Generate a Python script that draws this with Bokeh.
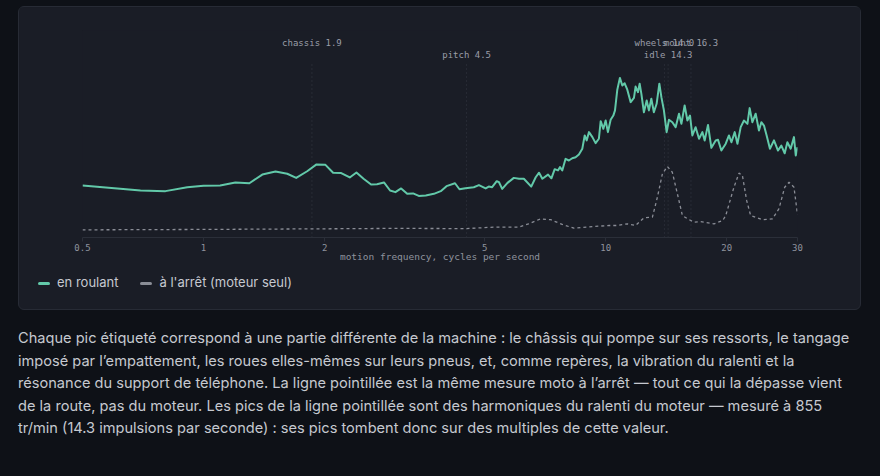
from bokeh.plotting import figure
from bokeh.models import (Range1d, FixedTicker, Div, GlobalInlineStyleSheet)
from bokeh.layouts import column
from bokeh.core.properties import value
from bokeh.embed import file_html
from bokeh.resources import INLINE

# ---- data ----
riding_freq = [0.5, 0.697, 0.804, 0.911, 1.0, 1.10, 1.20, 1.30, 1.40, 1.51, 1.615, 1.70, 1.81, 1.91,
               2.01, 2.10, 2.20, 2.31, 2.40, 2.50, 2.61, 2.70, 2.81, 2.91, 3.00, 3.10, 3.21, 3.32,
               3.43, 3.57, 3.74, 3.89, 4.02, 4.22, 4.33, 4.48, 4.70, 4.84, 5.03, 5.12, 5.22, 5.36,
               5.43, 5.53, 5.70, 5.91, 6.09, 6.26, 6.53, 6.70, 6.83, 6.96, 7.19, 7.33, 7.47, 7.61,
               7.70, 7.80, 7.95, 8.10, 8.26, 8.42, 8.58, 8.75, 8.87, 8.97, 9.09, 9.27, 9.44, 9.62,
               9.72, 9.87, 10.0, 10.13, 10.29, 10.45, 10.55, 10.69, 10.85, 11.00, 11.15, 11.32,
               11.54, 11.76, 11.87, 12.03, 12.15, 12.27, 12.45, 12.65, 12.81, 12.99, 13.18, 13.39,
               13.60, 13.76, 13.96, 14.18, 14.37, 14.65, 14.93, 15.22, 15.43, 15.72, 15.97, 16.21,
               16.43, 16.74, 17.07, 17.40, 17.63, 17.97, 18.32, 18.78, 19.03, 19.40, 19.89, 20.26,
               20.55, 20.94, 21.27, 21.67, 22.08, 22.52, 22.81, 23.17, 23.61, 24.06, 24.39, 24.76,
               25.14, 25.62, 26.22, 26.83, 27.35, 27.88, 28.31, 28.85, 29.40, 29.70, 30.0]
riding_amp = [25.1, 22.7, 22.4, 24.3, 25.0, 25.1, 26.6, 26.2, 30.4, 31.9, 30.8, 28.8, 32.0, 35.3,
              35.1, 31.3, 31.1, 29.0, 31.4, 28.4, 25.6, 25.7, 26.6, 22.7, 21.9, 23.7, 21.1, 21.3,
              20.1, 20.3, 21.1, 22.4, 24.8, 26.2, 23.3, 23.8, 24.3, 25.3, 23.7, 24.6, 24.3, 27.2,
              26.7, 23.5, 26.4, 28.8, 28.4, 28.4, 24.6, 29.1, 31.3, 28.4, 30.4, 28.6, 33.0, 32.4,
              34.0, 32.4, 38.0, 37.2, 38.3, 38.8, 40.1, 42.9, 49.3, 46.9, 50.9, 48.5, 45.6, 47.7,
              56.2, 52.5, 56.5, 50.9, 56.9, 58.9, 61.4, 71.4, 77.1, 73.4, 74.5, 71.4,
              65.4, 67.5, 72.9, 70.2, 74.3, 69.4, 60.5, 66.2, 61.4, 67.0, 60.5, 64.6,
              74.3, 67.8, 61.4, 50.9, 56.9, 55.7, 53.3, 59.8, 54.9, 63.8, 56.5, 58.9,
              49.3, 53.3, 47.7, 50.9, 46.9, 54.4, 43.3, 46.9, 47.2, 42.0, 45.3, 49.3,
              46.0, 50.9, 45.3, 53.3, 56.5, 54.9, 62.5, 55.7, 59.8, 51.7, 55.7, 54.1,
              49.3, 42.9, 46.9, 42.0, 44.4, 40.7, 46.0, 42.9, 48.5, 39.6, 43.6]

idle_freq = [0.5, 1.0, 2.0, 3.0, 4.5, 5.26, 6.07, 6.43, 6.89, 7.30, 7.80, 8.34, 9.33, 10.2, 10.69,
             11.32, 11.87, 12.45, 13.07, 13.45, 13.84, 14.24, 14.65, 15.08, 15.52, 16.0, 16.58,
             17.23, 18.60, 19.55, 19.89, 20.85, 21.46, 21.88, 22.42, 22.94, 24.54, 25.98, 26.98,
             27.88, 28.58, 29.40, 30.0]
idle_amp = [3.7, 3.9, 4.2, 4.4, 4.3, 5.0, 5.0, 6.6, 9.0, 8.6, 6.3, 4.5, 5.3, 5.8, 5.8,
            6.6, 5.8, 9.5, 9.8, 19.5, 30.8, 34.3, 31.5, 21.1, 10.6, 9.0, 7.4,
            7.7, 6.6, 8.2, 10.6, 24.3, 31.1, 30.0, 17.9, 10.6, 8.6, 9.0, 13.9,
            24.3, 26.7, 24.3, 11.1]

mark_names = ["chassis", "pitch", "wheels", "idle", "mount"]
mark_freq = [1.86, 4.51, 14.0, 14.3, 16.3]
mark_text = ["1.9", "4.5", "14.0", "14.3", "16.3"]

tick_values = [0.5, 1, 2, 5, 10, 20, 30]
tick_labels = ["0.5", "1", "2", "5", "10", "20", "30"]
legend_labels = ["en roulant", "à l'arrêt (moteur seul)"]
x_title = "motion frequency, cycles per second"

paragraph_lines = [
    "Chaque pic étiqueté correspond à une partie différente de la machine : le châssis qui pompe sur ses ressorts, le tangage",
    "imposé par l’empattement, les roues elles-mêmes sur leurs pneus, et, comme repères, la vibration du ralenti et la",
    "résonance du support de téléphone. La ligne pointillée est la même mesure moto à l’arrêt — tout ce qui la dépasse vient",
    "de la route, pas du moteur. Les pics de la ligne pointillée sont des harmoniques du ralenti du moteur — mesuré à 855",
    "tr/min (14.3 impulsions par seconde) : ses pics tombent donc sur des multiples de cette valeur.",
]

# ---- style ----
PAGE = "#0e1117"
CARD = "#1a1d26"
GREEN = "#62c9a9"
GREY = "#8a8d96"
MUTED = "#8f939d"
MONO = "DejaVu Sans Mono"
SANS = "Inter"

p = figure(width=841, height=265, x_axis_type="log",
           x_range=Range1d(0.5, 30), y_range=Range1d(0, 100),
           output_backend="svg", toolbar_location=None, y_axis_location=None,
           min_border_left=63, min_border_right=63, min_border_top=23, min_border_bottom=35,
           background_fill_color=CARD, border_fill_color=CARD, outline_line_color=None)
p.margin = 0
p.xgrid.visible = False
p.ygrid.visible = False

# marker lines and labels
p.segment(x0=mark_freq, y0=0, x1=mark_freq, y1=84.5, line_color="#363a44",
          line_width=1, line_dash="1 3")
label_texts = [f"{n} {t}" for n, t in zip(mark_names, mark_text)]
label_y = [94.2 if i % 2 == 0 else 88.4 for i in range(len(mark_names))]
p.text(x=mark_freq, y=label_y, text=label_texts, text_font=value(MONO),
       text_font_size="9px", text_color="#9a9ea8", text_align="center",
       text_baseline="middle")

# series
p.line(idle_freq, idle_amp, line_color=GREY, line_width=1.3, line_dash="3 3")
p.line(riding_freq, riding_amp, line_color=GREEN, line_width=2, line_join="round")

ax = p.xaxis[0]
ax.ticker = FixedTicker(ticks=tick_values, minor_ticks=[])
ax.major_label_overrides = {float(v): l for v, l in zip(tick_values, tick_labels)}
ax.axis_label = x_title
ax.axis_label_text_font = MONO
ax.axis_label_text_font_style = "normal"
ax.axis_label_text_font_size = "9.5px"
ax.axis_label_text_color = MUTED
ax.axis_label_standoff = -3
ax.major_label_text_font = MONO
ax.major_label_text_font_size = "9px"
ax.major_label_text_color = MUTED
ax.major_label_standoff = 2
ax.axis_line_color = "#2b2f39"
ax.major_tick_line_color = "#2b2f39"
ax.major_tick_out = 4
ax.major_tick_in = 0
ax.minor_tick_line_color = None

# legend as HTML row inside the card
def swatch(color):
    return (f'<span style="display:inline-block;width:12px;height:3px;border-radius:2px;'
            f'background:{color};vertical-align:middle;margin-right:7px;"></span>')

legend_html = ('<div style="font-family:Inter,sans-serif;font-size:13px;line-height:20px;'
               'color:#c6c9d0;white-space:nowrap;">'
               + swatch(GREEN) + legend_labels[0]
               + '<span style="display:inline-block;width:22px;"></span>'
               + swatch(GREY) + legend_labels[1] + '</div>')
legend_div = Div(text=legend_html, width=800, height=37, margin=(0, 0, 0, 19))

card = column(p, legend_div, width=843, height=304, margin=(6, 0, 0, 18),
              styles={"background": CARD, "border": "1px solid #272b35",
                      "border-radius": "6px", "box-sizing": "border-box",
                      "padding": "0px"})

para_html = ('<div style="margin:0;color:#c6c9d0;font-family:Inter,sans-serif;'
             'font-size:14.6px;line-height:22.5px;white-space:nowrap;">'
             + "<br>".join(paragraph_lines) + "</div>")
div = Div(text=para_html, width=855, height=130, margin=(17, 0, 0, 18))

root = column(card, div, stylesheets=[GlobalInlineStyleSheet(
    css=f"html, body {{ background: {PAGE}; }}")])

open("out.html", "w").write(file_html(root, INLINE))
